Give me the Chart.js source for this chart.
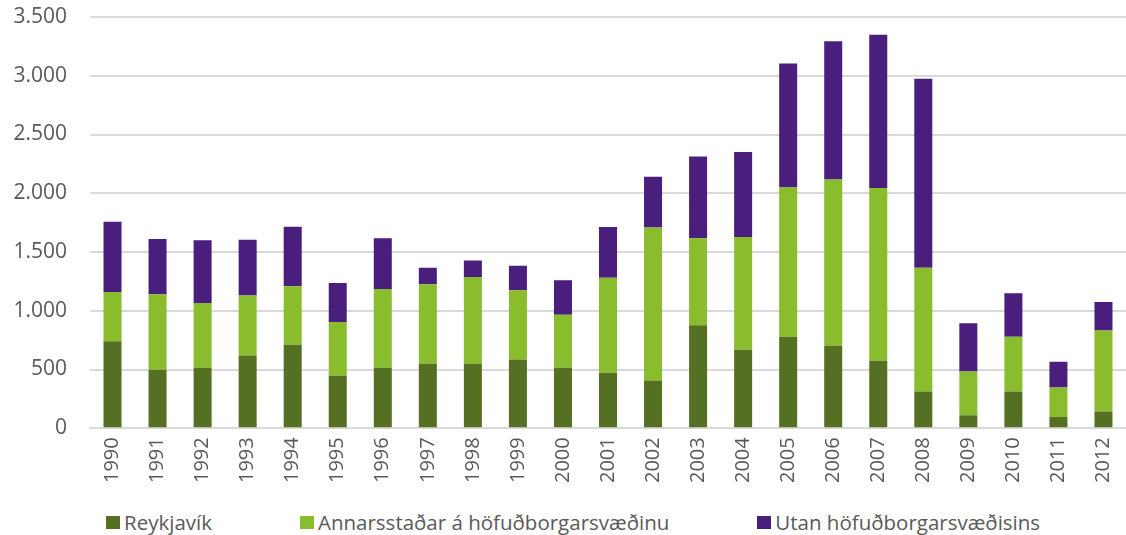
<!DOCTYPE html>
<html>
<head>
<meta charset="utf-8">
<script src="https://cdn.jsdelivr.net/npm/chart.js@4"></script>
<style>
    html, body { margin: 0; padding: 0; background: #fff; }
    #wrap { width: 1126px; height: 505px; position: relative; }
    #legend {
        display: flex;
        align-items: center;
        gap: 88px;
        height: 34px;
        padding-left: 106px;
        font-family: "Open Sans", sans-serif;
        font-size: 20.5px;
        color: #595959;
    }
    #legend .item { display: flex; align-items: center; white-space: nowrap; }
    #legend .box { width: 14px; height: 13px; margin-right: 4px; }
</style>
</head>
<body>
<div id="wrap"><canvas id="chart"></canvas></div>
<div id="legend"></div>
<script>
const years = ['1990', '1991', '1992', '1993', '1994', '1995', '1996', '1997', '1998', '1999', '2000',
    '2001', '2002', '2003', '2004', '2005', '2006', '2007', '2008', '2009', '2010', '2011', '2012'];

const reykjavik = [740, 497, 514, 620, 711, 446, 514, 548, 548, 586, 514,
    472, 407, 876, 668, 779, 702, 574, 313, 111, 313, 96, 142];
const annarsstadar = [420, 643, 552, 509, 498, 458, 672, 678, 740, 589, 452,
    808, 1302, 742, 959, 1271, 1416, 1471, 1054, 373, 466, 251, 689];
const utan = [597, 470, 535, 475, 506, 333, 432, 141, 139, 207, 294,
    432, 432, 694, 725, 1055, 1175, 1305, 1607, 409, 370, 219, 244];

const seriesNames = ['Reykjavík', 'Annarsstaðar á höfuðborgarsvæðinu', 'Utan höfuðborgarsvæðisins'];
const seriesColors = ['#557022', '#8abd2d', '#4a1e7d'];
const yTicks = [0, 500, 1000, 1500, 2000, 2500, 3000, 3500];

const textColor = '#595959';
const gridColor = '#d9d9d9';

function fmt(v) {
    return String(v).replace(/\B(?=(\d{3})+(?!\d))/g, '.');
}

function bar(i, data) {
    return {
        label: seriesNames[i],
        data,
        backgroundColor: seriesColors[i],
        borderWidth: 0,
        barPercentage: 0.8,
        categoryPercentage: 0.5
    };
}

const ctx = document.getElementById('chart').getContext('2d');

new Chart(ctx, {
    type: 'bar',
    data: {
        labels: years,
        datasets: [
            bar(0, reykjavik),
            bar(1, annarsstadar),
            bar(2, utan)
        ]
    },
    options: {
        responsive: true,
        maintainAspectRatio: false,
        animation: false,
        layout: {
            padding: { top: 17, right: -4, left: 0, bottom: 13 }
        },
        plugins: {
            tooltip: { enabled: false },
            legend: { display: false }
        },
        scales: {
            x: {
                stacked: true,
                afterFit: axis => {
                    axis.paddingLeft = 0;
                    axis.paddingRight = 0;
                },
                grid: { display: false, drawTicks: false },
                border: { display: true, color: gridColor, width: 2 },
                ticks: {
                    color: textColor,
                    minRotation: 90,
                    maxRotation: 90,
                    padding: 9,
                    font: { family: '"Open Sans", sans-serif', size: 20 }
                }
            },
            y: {
                stacked: true,
                min: 0,
                max: 3500,
                afterBuildTicks: axis => {
                    axis.ticks = yTicks.map(v => ({ value: v }));
                },
                afterFit: axis => {
                    axis.paddingTop = 0;
                    axis.paddingBottom = 0;
                    axis.width = 90;
                },
                grid: { color: gridColor, lineWidth: 2, drawTicks: false },
                border: { display: false },
                ticks: {
                    color: textColor,
                    padding: 23,
                    font: { family: '"Open Sans", sans-serif', size: 21 },
                    callback: v => fmt(v)
                }
            }
        }
    }
});

// legend drawn as html below the canvas
const legend = document.getElementById('legend');
seriesNames.forEach((name, i) => {
    const item = document.createElement('div');
    item.className = 'item';
    item.innerHTML = `<span class="box" style="background:${seriesColors[i]}"></span>${name}`;
    legend.appendChild(item);
});
</script>
</body>
</html>
